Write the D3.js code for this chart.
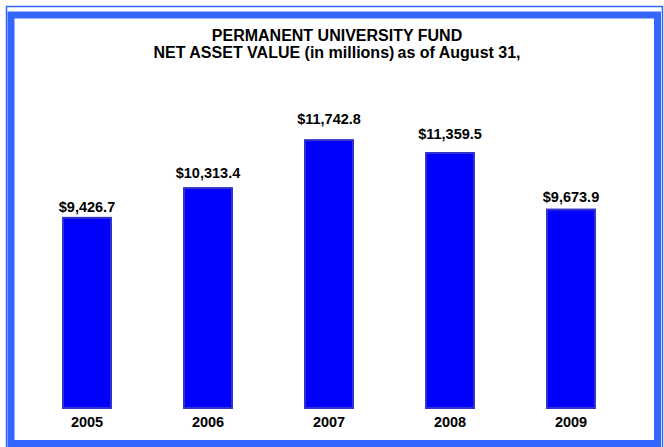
<!DOCTYPE html>
<html>
<head>
<meta charset="utf-8">
<script src="https://cdn.jsdelivr.net/npm/d3@7"></script>
<style>
  html, body { margin: 0; padding: 0; background: #fff; }
  svg { display: block; }
  text { font-family: "Liberation Sans", Arial, sans-serif; font-weight: bold; fill: #000; }
</style>
</head>
<body>
<svg id="chart" width="664" height="447"></svg>
<script>
const years = ["2005", "2006", "2007", "2008", "2009"];
const values = [9426.7, 10313.4, 11742.8, 11359.5, 9673.9];
const valueLabels = ["$9,426.7", "$10,313.4", "$11,742.8", "$11,359.5", "$9,673.9"];
const titleLines = ["PERMANENT UNIVERSITY FUND", "NET ASSET VALUE (in millions)\u2009as of August 31,"];

const W = 664, H = 447;
const svg = d3.select("#chart");

// frame
const frameColor = "#3366FF";
svg.append("rect").attr("x", 6.5).attr("y", 6.5).attr("width", 656).attr("height", 446)
  .attr("fill", "none").attr("stroke", frameColor).attr("stroke-width", 1.5);
svg.append("rect").attr("x", 11).attr("y", 15).attr("width", 646.5).attr("height", 428.5)
  .attr("fill", "#fff").attr("stroke", frameColor).attr("stroke-width", 7);

// scales
const x = d3.scaleBand().domain(years).range([26.5, 631.5])
  .paddingInner(0.587).paddingOuter(0.2935);
const y = d3.scaleLinear().domain([3700, 12000]).range([409, 130.5]);
const labelY = d3.scaleLinear().domain([9426.7, 11742.8]).range([211.7, 124]);

// title
svg.append("text").attr("x", 337).attr("y", 40.5).attr("text-anchor", "middle")
  .style("font-size", "16px").text(titleLines[0]);
svg.append("text").attr("x", 337).attr("y", 58).attr("text-anchor", "middle")
  .style("font-size", "16px").text(titleLines[1]);

// bars
svg.selectAll("rect.bar").data(values).join("rect").attr("class", "bar")
  .attr("x", (d, i) => x(years[i]) + 1)
  .attr("y", d => y(d) + 1)
  .attr("width", x.bandwidth() - 2)
  .attr("height", d => y.range()[0] - y(d) - 2)
  .attr("fill", "#0000FF")
  .attr("stroke", "#3333CC")
  .attr("stroke-width", 2);

// value labels
svg.selectAll("text.val").data(values).join("text").attr("class", "val")
  .attr("x", (d, i) => x(years[i]) + x.bandwidth() / 2)
  .attr("y", d => labelY(d))
  .attr("text-anchor", "middle")
  .style("font-size", "14.5px")
  .text((d, i) => valueLabels[i]);

// x axis labels
const xAxis = d3.axisBottom(x).tickSize(0).tickPadding(0);
const gx = svg.append("g").attr("transform", "translate(0,416)").call(xAxis);
gx.select(".domain").remove();
gx.selectAll("text").attr("dy", null).attr("y", 10.7)
  .style("font-size", "14.5px").style("font-family", "'Liberation Sans', Arial, sans-serif")
  .style("font-weight", "bold").attr("fill", "#000");
</script>
</body>
</html>
